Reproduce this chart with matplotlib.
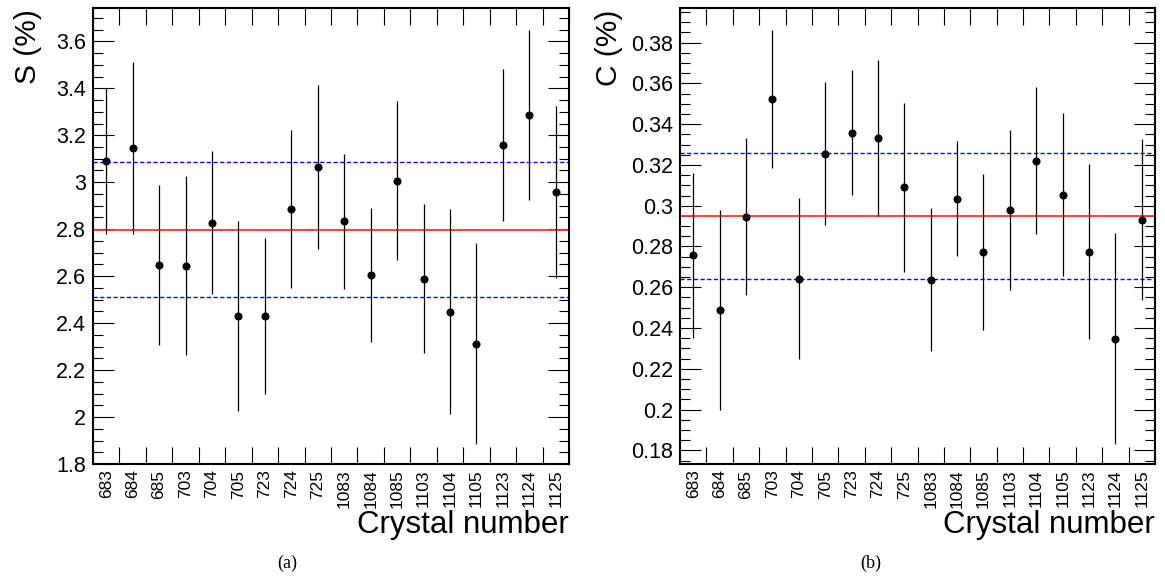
import matplotlib
matplotlib.use("Agg")
import matplotlib.pyplot as plt
import numpy as np
from matplotlib.ticker import MultipleLocator

crystals = ["683", "684", "685", "703", "704", "705", "723", "724", "725",
            "1083", "1084", "1085", "1103", "1104", "1105", "1123", "1124", "1125"]

S_val = [3.091, 3.146, 2.648, 2.645, 2.827, 2.432, 2.432, 2.885, 3.066,
         2.834, 2.604, 3.007, 2.590, 2.449, 2.313, 3.159, 3.285, 2.959]
S_err = [0.31, 0.365, 0.34, 0.38, 0.305, 0.405, 0.332, 0.336, 0.35,
         0.287, 0.286, 0.337, 0.316, 0.435, 0.427, 0.323, 0.362, 0.366]
S_mean = 2.798
S_std = 0.287

C_val = [0.2756, 0.2488, 0.2946, 0.3524, 0.2642, 0.3256, 0.3359, 0.3333, 0.3091,
         0.2637, 0.3035, 0.2773, 0.2980, 0.3220, 0.3055, 0.2775, 0.2348, 0.2931]
C_err = [0.0405, 0.049, 0.0386, 0.0338, 0.0395, 0.035, 0.0305, 0.0384, 0.0415,
         0.035, 0.0284, 0.0383, 0.0393, 0.036, 0.040, 0.043, 0.0516, 0.0395]
C_mean = 0.2950
C_std = 0.0310

plt.rcParams['font.family'] = ['Liberation Sans', 'DejaVu Sans']

W, H = 1165, 578
fig = plt.figure(figsize=(W / 100, H / 100), dpi=100)

def make_ax(x0, x1, y0, y1):
    return fig.add_axes([x0 / W, 1 - y1 / H, (x1 - x0) / W, (y1 - y0) / H])

axL = make_ax(93, 569, 8, 464)
axR = make_ax(680, 1155, 8, 464)

def draw(ax, vals, errs, mean, std, ylim, major, minor, ylabel, lab_x, caption, cap_x):
    n = len(crystals)
    x = np.arange(n) + 0.5
    ax.errorbar(x, vals, yerr=errs, fmt='o', color='black', ms=4.8,
                elinewidth=0.9, capsize=0, zorder=3)
    ax.axhline(mean, color='#ff3030', lw=1.3, zorder=2)
    ax.axhline(mean + std, color='blue', lw=1.0, ls=(0, (3, 1.8)), zorder=2)
    ax.axhline(mean - std, color='blue', lw=1.0, ls=(0, (3, 1.8)), zorder=2)
    ax.set_xlim(0, n)
    ax.set_ylim(*ylim)
    ax.set_xticks(np.arange(n + 1))
    ax.set_xticklabels([])
    ax.set_xticks(x, minor=True)
    ax.set_xticklabels(crystals, minor=True, rotation=90, fontsize=12.5)
    ax.tick_params(axis='x', which='major', direction='in', length=12, width=0.8,
                   top=True, bottom=True)
    ax.tick_params(axis='x', which='minor', length=0, pad=4)
    ax.yaxis.set_major_locator(MultipleLocator(major))
    ax.yaxis.set_minor_locator(MultipleLocator(minor))
    ax.tick_params(axis='y', which='major', direction='in', length=15, width=0.8,
                   left=True, right=True, labelsize=15.5, pad=5)
    ax.tick_params(axis='y', which='minor', direction='in', length=7, width=0.8,
                   left=True, right=True)
    ax.yaxis.set_major_formatter(matplotlib.ticker.FuncFormatter(
        lambda v, p: ('%g' % round(v, 4))))
    for sp in ax.spines.values():
        sp.set_linewidth(1.5)
    ax.set_ylabel(ylabel, fontsize=21.5, loc='top')
    ax.yaxis.set_label_coords(lab_x, 0.997)
    ax.set_xlabel('Crystal number', fontsize=22.5, loc='right')
    ax.xaxis.set_label_coords(1.0, -0.1)
    fig.text(cap_x / W, 1 - 563 / H, caption, ha='center', va='center',
             fontsize=13, family='Liberation Serif')

draw(axL, S_val, S_err, S_mean, S_std, (1.8, 3.742), 0.2, 0.05, 'S (%)', -0.107, '(a)', 287)
draw(axR, C_val, C_err, C_mean, C_std, (0.1733, 0.397), 0.02, 0.005, 'C (%)', -0.12, '(b)', 871)

fig.savefig('out.png', dpi=100)
